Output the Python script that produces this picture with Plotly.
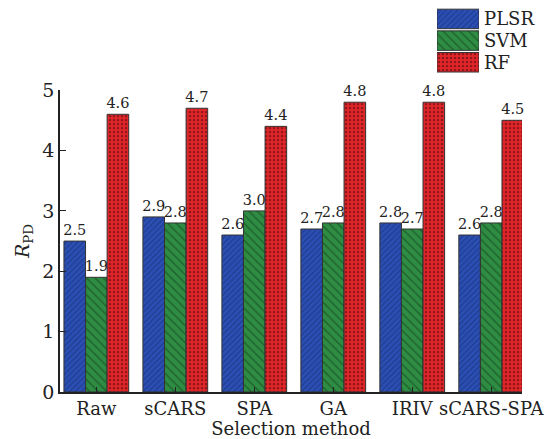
import plotly.graph_objects as go

methods = ["Raw", "sCARS", "SPA", "GA", "IRIV", "sCARS-SPA"]
plsr = [2.5, 2.9, 2.6, 2.7, 2.8, 2.6]
svm = [1.9, 2.8, 3.0, 2.8, 2.7, 2.8]
rf = [4.6, 4.7, 4.4, 4.8, 4.8, 4.5]
series_names = ["PLSR", "SVM", "RF"]

styles = {
    "PLSR": dict(color="#2b4fb5", shape="/", fg="#142a66", size=4, solidity=0.3),
    "SVM": dict(color="#2f8c43", shape="\\", fg="#0f3b19", size=6, solidity=0.25),
    "RF": dict(color="#e3262a", shape=".", fg="#3a0808", size=4, solidity=0.35),
}

font_family = "DejaVu Serif"


def marker_for(name):
    s = styles[name]
    return dict(
        color=s["color"],
        line=dict(color="#333", width=1),
        pattern=dict(shape=s["shape"], fgcolor=s["fg"], bgcolor=s["color"],
                     size=s["size"], solidity=s["solidity"], fillmode="overlay"),
    )


fig = go.Figure()
for name, vals in zip(series_names, [plsr, svm, rf]):
    fig.add_trace(go.Bar(
        name=name,
        x=methods,
        y=vals,
        text=[f"{v:.1f}" for v in vals],
        textposition="outside",
        constraintext="none",
        textfont=dict(size=14.5, color="#222", family=font_family),
        cliponaxis=False,
        marker=marker_for(name),
        showlegend=False,
    ))

# Legend key: one full-width swatch per series on its own small axes
for name in series_names:
    fig.add_trace(go.Bar(
        x=[1], y=[name], orientation="h",
        marker=marker_for(name),
        xaxis="x2", yaxis="y2", showlegend=False, hoverinfo="skip",
    ))

fig.update_layout(
    width=553, height=439,
    margin=dict(l=60, r=31, t=5, b=47),
    plot_bgcolor="white", paper_bgcolor="white",
    barmode="group", bargap=0.18, bargroupgap=0,
    font=dict(family=font_family, size=17, color="#222"),
    xaxis=dict(
        range=[-0.46, 5.39], domain=[0, 1], anchor="y",
        showline=True, linecolor="#222", linewidth=1.5,
        ticks="inside", ticklen=5, tickcolor="#222",
        tickfont=dict(size=18),
        title=dict(text="Selection method", font=dict(size=18), standoff=4),
        showgrid=False, automargin=False,
    ),
    yaxis=dict(
        range=[0, 5], dtick=1, domain=[0, 0.780], anchor="x",
        showline=True, linecolor="#222", linewidth=1.5,
        ticks="inside", ticklen=6, tickcolor="#222",
        tickfont=dict(size=19),
        title=dict(text="<i>R</i><sub>PD</sub>", font=dict(size=19), standoff=8),
        showgrid=False, zeroline=False, automargin=False,
    ),
    xaxis2=dict(
        domain=[0.816, 0.907], range=[0, 1], anchor="y2",
        visible=False, fixedrange=True,
    ),
    yaxis2=dict(
        domain=[0.824, 0.992], anchor="x2",
        type="category",
        categoryorder="array", categoryarray=series_names[::-1],
        tickmode="array", tickvals=series_names, ticktext=series_names,
        side="right", showline=False, showgrid=False, zeroline=False,
        ticks="", tickfont=dict(size=18), ticklabelstandoff=4,
        fixedrange=True, automargin=False,
    ),
)
fig.update_traces(width=0.9, selector=dict(xaxis="x2"))

fig.write_html("out.html")
